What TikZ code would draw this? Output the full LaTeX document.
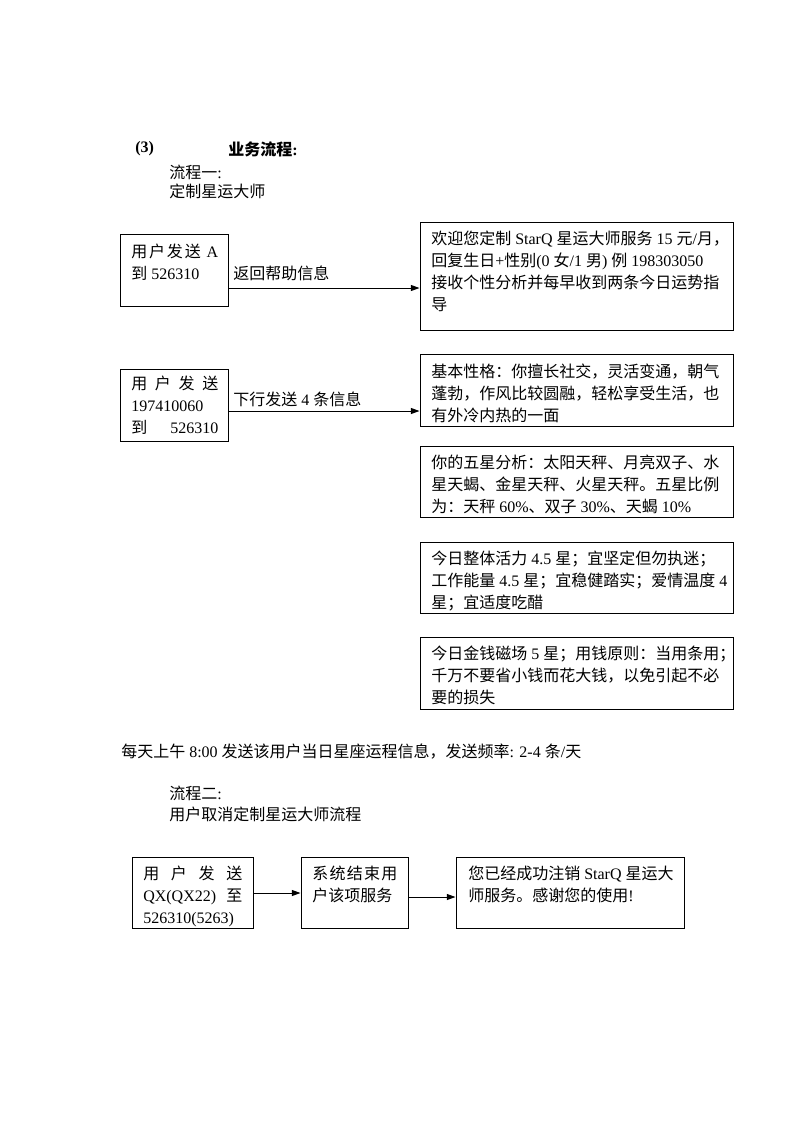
\documentclass[tikz,border=0pt]{standalone}
\usepackage{fontspec}
\setmainfont{Liberation Serif}
\newfontfamily\cjk{Noto Sans CJK SC}
\usetikzlibrary{arrows.meta,fit}
\XeTeXinterchartokenstate=1
\chardef\CJKcls=7
\makeatletter
\def\setcjkrange#1#2{\count@=#1\relax\loop\XeTeXcharclass\count@=\CJKcls\relax\ifnum\count@<#2\relax\advance\count@\@ne\repeat}
\setcjkrange{"3000}{"303F}
\setcjkrange{"4E00}{"9FFF}
\setcjkrange{"FF00}{"FFEF}
\makeatother
\XeTeXinterchartoks 0 \CJKcls = {\cjk}
\XeTeXinterchartoks 4095 \CJKcls = {\cjk}
\XeTeXinterchartoks \CJKcls 0 = {\rmfamily}
\XeTeXinterchartoks \CJKcls 4095 = {\rmfamily}
\newcommand\hw[1]{\makebox[0.5em][l]{#1}}
\tikzset{
  box/.style={draw, line width=0.75pt, inner sep=0pt},
  txt/.style={anchor=north west, inner sep=0pt, align=left, font=\fontsize{12}{16.5}\selectfont},
  lbl/.style={anchor=west, inner sep=0pt, font=\fontsize{12}{16.5}\selectfont},
  bold/.style={anchor=west, inner sep=0pt, font=\fontsize{12}{16.5}\selectfont\bfseries},
  arr/.style={-{Triangle[length=6.5pt,width=4.5pt]}, line width=0.75pt},
}
\begin{document}
\begin{tikzpicture}[x=0.75pt,y=-0.75pt]
\fill[white] (0,0) rectangle (793,1122);
\path[use as bounding box] (0,0) rectangle (793,1122);
% headings
\node[bold] (h3) at (135,149) {(3)};
\node[bold] (h3b) at (228,149) {业务流程:};
\node[lbl] (f1) at (169,172) {流程一:};
\node[lbl] (f1b) at (169,191) {定制星运大师};
% flow 1 boxes
\node[box, fit={(120,234)(228,306)}] (b1) {};
\node[box, fit={(420,222)(733,330)}] (b2) {};
\node[box, fit={(120,369)(228,441)}] (b3) {};
\node[box, fit={(420,354)(733,426)}] (bA) {};
\node[box, fit={(420,446)(733,517)}] (bB) {};
\node[box, fit={(420,542)(733,613)}] (bC) {};
\node[box, fit={(420,637)(733,709)}] (bD) {};
% texts
\node[txt] (t1) at (131,242) {\strut\makebox[65.25pt][s]{用\hfil 户\hfil 发\hfil 送\hfil\ A}\\到 526310};
\node[txt] (t2) at (431,229) {\strut 欢迎您定制 StarQ 星运大师服务 15 元/月\hw{，}\\回复生日+性别(0 女/1 男) 例 198303050\\接收个性分析并每早收到两条今日运势指\\导};
\node[txt] (t3) at (131,374) {\strut\makebox[65.25pt][s]{用 户 发 送}\\197410060\\\makebox[65.25pt][s]{到 526310}};
\node[txt] (tA) at (431,362) {\strut 基本性格：你擅长社交，灵活变通，朝气\\蓬勃，作风比较圆融，轻松享受生活，也\\有外冷内热的一面};
\node[txt] (tB) at (431,453) {\strut 你的五星分析：太阳天秤、月亮双子、水\\星天蝎、金星天秤、火星天秤。五星比例\\为：天秤 60\%、双子 30\%、天蝎 10\%};
\node[txt] (tC) at (431,549) {\strut 今日整体活力 4.5 星；宜坚定但勿执迷；\\工作能量 4.5 星；宜稳健踏实；爱情温度 4\\星；宜适度吃醋};
\node[txt] (tD) at (431,644) {\strut 今日金钱磁场 5 星；用钱原则：当用条用\hw{；}\\千万不要省小钱而花大钱，以免引起不必\\要的损失};
% arrows flow 1
\draw[arr] (b1.east |- 0,288) -- (b2.west |- 0,288);
\node[lbl] (l1) at (233,273) {返回帮助信息};
\draw[arr] (b3.east |- 0,411) -- (bA.west |- 0,411);
\node[lbl] (l2) at (233,399) {下行发送 4 条信息};
% note
\node[lbl] (note) at (121,752) {每天上午 8:00 发送该用户当日星座运程信息，发送频率: 2-4 条/天};
\node[lbl] (f2) at (169,793) {流程二:};
\node[lbl] (f2b) at (169,814) {用户取消定制星运大师流程};
% flow 2
\node[box, fit={(132,857)(253,928)}] (bL) {};
\node[box, fit={(301,857)(408,928)}] (bM) {};
\node[box, fit={(456,857)(684,928)}] (bR) {};
\node[txt] (tL) at (143,864) {\strut\makebox[74.25pt][s]{用 户 发 送}\\\makebox[74.25pt][s]{QX(QX22) 至}\\526310(5263)};
\node[txt] (tM) at (312,864) {\strut\makebox[63.75pt][s]{系\hfil 统\hfil 结\hfil 束\hfil 用}\\户该项服务};
\node[txt] (tR) at (468,864) {\strut 您已经成功注销 StarQ 星运大\\师服务。感谢您的使用!};
\draw[arr] (bL.east |- 0,893) -- (bM.west |- 0,893);
\draw[arr] (bM.east |- 0,897) -- (bR.west |- 0,897);
\end{tikzpicture}
\end{document}
